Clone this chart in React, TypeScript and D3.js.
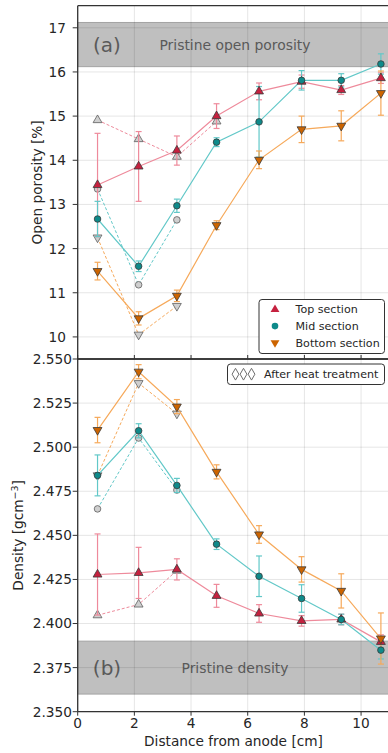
import * as d3 from 'd3'
import { useEffect, useRef } from 'react'

// distance from anode [cm]
const xs = [0.7, 2.15, 3.5, 4.9, 6.4, 7.9, 9.3, 10.7]
const xTicks = [0, 2, 4, 6, 8, 10]

// open porosity [%]
const porTop = [13.44, 13.86, 14.22, 15.0, 15.56, 15.78, 15.59, 15.86]
const porTopErr = [1.17, 0.79, 0.33, 0.28, 0.19, 0.15, 0.1, 0.12]
const porMid = [12.67, 11.6, 12.97, 14.41, 14.87, 15.81, 15.81, 16.18]
const porMidErr = [0.4, 0.12, 0.15, 0.1, 0.8, 0.22, 0.15, 0.23]
const porBot = [11.49, 10.42, 10.93, 12.53, 14.01, 14.7, 14.78, 15.52]
const porBotErr = [0.2, 0.15, 0.13, 0.1, 0.2, 0.3, 0.34, 0.5]
const porHeatTop = [14.91, 14.48, 14.08, 14.88]
const porHeatMid = [13.35, 11.18, 12.65]
const porHeatBot = [12.25, 10.05, 10.7]
const porTicks = [10, 11, 12, 13, 14, 15, 16, 17]
const porBand = [16.12, 17.12]

// density [g cm^-3]
const denTop = [2.4278, 2.4287, 2.4307, 2.4157, 2.4057, 2.4015, 2.4023, 2.3896]
const denTopErr = [0.023, 0.0145, 0.006, 0.0065, 0.005, 0.003, 0.003, 0.004]
const denMid = [2.484, 2.5093, 2.4783, 2.445, 2.4268, 2.4142, 2.4023, 2.3849]
const denMidErr = [0.0116, 0.004, 0.004, 0.003, 0.0115, 0.0078, 0.003, 0.005]
const denBot = [2.5097, 2.5428, 2.523, 2.486, 2.4505, 2.4307, 2.4185, 2.3915]
const denBotErr = [0.0072, 0.004, 0.004, 0.004, 0.005, 0.0072, 0.0097, 0.0145]
const denHeatTop = [2.4047, 2.4108, 2.43]
const denHeatMid = [2.465, 2.5052, 2.4757]
const denHeatBot = [2.484, 2.5363, 2.519]
const denTicks = [2.35, 2.375, 2.4, 2.425, 2.45, 2.475, 2.5, 2.525, 2.55]
const denBand = [2.36, 2.39]

const sections = ['Top section', 'Mid section', 'Bottom section']
const markerFill = ['#c5213f', '#0e8a8a', '#cc6400']
const lineColor = ['#ee8a9b', '#62c8c8', '#f6a95a']

const font = 'DejaVu Sans, sans-serif'

const App = () => {
  const ref = useRef<SVGSVGElement>(null)

  useEffect(() => {
    const svg = d3.select(ref.current)
    svg.selectAll('*').remove()

    const left = 77.7,
      right = 389.4,
      top = 5.7,
      mid = 359,
      bottom = 711.7

    const x = d3.scaleLinear().domain([0, 11]).range([left, right])

    const marker = (g: any, type: number, cx: number, cy: number, fill: string, stroke: string) => {
      if (type === 1) {
        g.append('circle')
          .attr('cx', cx)
          .attr('cy', cy)
          .attr('r', 3.3)
          .attr('fill', fill)
          .attr('stroke', stroke)
          .attr('stroke-width', 0.8)
      } else {
        g.append('path')
          .attr('d', d3.symbol().type(d3.symbolTriangle).size(34)())
          .attr('transform', 'translate(' + cx + ',' + cy + ')' + (type === 2 ? ' rotate(180)' : ''))
          .attr('fill', fill)
          .attr('stroke', stroke)
          .attr('stroke-width', 0.8)
      }
    }

    function panel(
      y0: number,
      y1: number,
      domain: number[],
      ticks: number[],
      fmt: (v: number) => string,
      band: number[],
      tag: string,
      bandText: string,
      series: number[][],
      errs: number[][],
      heat: number[][],
      label: string,
      labelX: number,
      tickRight: number,
    ) {
      const y = d3.scaleLinear().domain(domain).range([y1, y0])
      const g = svg.append('g')

      // pristine band
      g.append('rect')
        .attr('x', left)
        .attr('width', right - left + 5)
        .attr('y', y(band[1]))
        .attr('height', y(band[0]) - y(band[1]))
        .attr('fill', '#bfbfbf')
        .attr('stroke', '#a3a3a3')
        .attr('stroke-width', 1)
      const bandMid = (y(band[0]) + y(band[1])) / 2
      g.append('text')
        .attr('x', 107)
        .attr('y', bandMid)
        .attr('dy', '0.36em')
        .attr('text-anchor', 'middle')
        .attr('font-family', font)
        .attr('font-size', 20)
        .attr('fill', '#5a5a5a')
        .text(tag)
      g.append('text')
        .attr('x', 235)
        .attr('y', bandMid)
        .attr('dy', '0.36em')
        .attr('text-anchor', 'middle')
        .attr('font-family', font)
        .attr('font-size', 13.9)
        .attr('fill', '#5a5a5a')
        .text(bandText)

      // grid
      g.selectAll('.vg')
        .data(xTicks)
        .enter()
        .append('line')
        .attr('x1', (d) => x(d))
        .attr('x2', (d) => x(d))
        .attr('y1', y0)
        .attr('y2', y1)
        .attr('stroke', '#000')
        .attr('stroke-opacity', 0.1)
      g.selectAll('.hg')
        .data(ticks)
        .enter()
        .append('line')
        .attr('x1', left)
        .attr('x2', right)
        .attr('y1', (d) => y(d))
        .attr('y2', (d) => y(d))
        .attr('stroke', '#000')
        .attr('stroke-opacity', 0.1)

      const line = d3
        .line<number>()
        .x((d, i) => x(xs[i]))
        .y((d) => y(d))

      // after heat treatment
      heat.forEach((h, k) => {
        g.append('path')
          .attr('d', line(h))
          .attr('fill', 'none')
          .attr('stroke', lineColor[k])
          .attr('stroke-width', 1)
          .attr('stroke-dasharray', '3,2')
      })
      heat.forEach((h, k) => {
        h.forEach((v, i) => marker(g, k, x(xs[i]), y(v), '#cfcfcf', '#5e5e5e'))
      })

      // error bars
      series.forEach((s, k) => {
        s.forEach((v, i) => {
          const cx = x(xs[i])
          const e = errs[k][i]
          g.append('line')
            .attr('x1', cx)
            .attr('x2', cx)
            .attr('y1', y(v - e))
            .attr('y2', y(v + e))
            .attr('stroke', lineColor[k])
            .attr('stroke-width', 1.2)
          ;[v - e, v + e].forEach((c) => {
            g.append('line')
              .attr('x1', cx - 3)
              .attr('x2', cx + 3)
              .attr('y1', y(c))
              .attr('y2', y(c))
              .attr('stroke', lineColor[k])
              .attr('stroke-width', 1.2)
          })
        })
      })
      series.forEach((s, k) => {
        g.append('path')
          .attr('d', line(s))
          .attr('fill', 'none')
          .attr('stroke', lineColor[k])
          .attr('stroke-width', 1.2)
      })
      series.forEach((s, k) => {
        s.forEach((v, i) => marker(g, k, x(xs[i]), y(v), markerFill[k], '#3a3a3a'))
      })

      // y axis
      g.selectAll('.yt')
        .data(ticks)
        .enter()
        .append('line')
        .attr('x1', left - 5)
        .attr('x2', left)
        .attr('y1', (d) => y(d))
        .attr('y2', (d) => y(d))
        .attr('stroke', '#333')
      g.selectAll('.yl')
        .data(ticks)
        .enter()
        .append('text')
        .attr('x', tickRight)
        .attr('y', (d) => y(d))
        .attr('dy', '0.36em')
        .attr('text-anchor', 'end')
        .attr('font-family', font)
        .attr('font-size', 13.7)
        .attr('fill', '#262626')
        .text((d) => fmt(d))

      g.append('text')
        .attr('transform', 'translate(' + labelX + ',' + (y0 + y1) / 2 + ') rotate(-90)')
        .attr('text-anchor', 'middle')
        .attr('font-family', font)
        .attr('font-size', 13.7)
        .attr('fill', '#262626')
        .html(label)

      // x ticks at bottom of panel
      g.selectAll('.xt')
        .data(xTicks)
        .enter()
        .append('line')
        .attr('x1', (d) => x(d))
        .attr('x2', (d) => x(d))
        .attr('y1', y1)
        .attr('y2', y1 + (y1 === bottom ? 4 : -4))
        .attr('stroke', '#333')

      // spines
      g.append('line').attr('x1', left).attr('x2', left).attr('y1', y0).attr('y2', y1).attr('stroke', '#333').attr('stroke-width', 1.3)
      g.append('line').attr('x1', left).attr('x2', right).attr('y1', y0).attr('y2', y0).attr('stroke', '#333').attr('stroke-width', 1.3)
      g.append('line').attr('x1', left).attr('x2', right).attr('y1', y1).attr('y2', y1).attr('stroke', '#333').attr('stroke-width', 1.3)
    }

    panel(
      top,
      mid,
      [9.5, 17.5],
      porTicks,
      (v) => String(v),
      porBand,
      '(a)',
      'Pristine open porosity',
      [porTop, porMid, porBot],
      [porTopErr, porMidErr, porBotErr],
      [porHeatTop, porHeatMid, porHeatBot],
      'Open porosity [%]',
      42,
      66,
    )

    panel(
      mid,
      bottom,
      [2.35, 2.55],
      denTicks,
      (v) => d3.format('.3f')(v),
      denBand,
      '(b)',
      'Pristine density',
      [denTop, denMid, denBot],
      [denTopErr, denMidErr, denBotErr],
      [denHeatTop, denHeatMid, denHeatBot],
      'Density [gcm<tspan dy="-5" font-size="9.5">−3</tspan><tspan dy="5">]</tspan>',
      23,
      72,
    )

    // x tick labels
    svg
      .selectAll('.xl')
      .data(xTicks)
      .enter()
      .append('text')
      .attr('x', (d) => x(d))
      .attr('y', 728)
      .attr('text-anchor', 'middle')
      .attr('font-family', font)
      .attr('font-size', 13.7)
      .attr('fill', '#262626')
      .text((d) => d)
    svg
      .append('text')
      .attr('x', 233.5)
      .attr('y', 746)
      .attr('text-anchor', 'middle')
      .attr('font-family', font)
      .attr('font-size', 13.7)
      .attr('fill', '#262626')
      .text('Distance from anode [cm]')

    // section legend
    const lg = svg.append('g')
    lg.append('rect')
      .attr('x', 259)
      .attr('y', 299.5)
      .attr('width', 125.5)
      .attr('height', 54)
      .attr('rx', 3)
      .attr('fill', '#fff')
      .attr('stroke', '#333')
      .attr('stroke-width', 1)
    sections.forEach((s, k) => {
      const cy = 309.5 + k * 16.6
      marker(lg, k, 275, cy, markerFill[k], 'none')
      lg.append('text')
        .attr('x', 295.5)
        .attr('y', cy)
        .attr('dy', '0.36em')
        .attr('font-family', font)
        .attr('font-size', 11.1)
        .attr('fill', '#262626')
        .text(s)
    })

    // heat treatment legend
    const hg = svg.append('g')
    hg.append('rect')
      .attr('x', 227.5)
      .attr('y', 364)
      .attr('width', 157)
      .attr('height', 20.5)
      .attr('rx', 3)
      .attr('fill', '#fff')
      .attr('stroke', '#333')
      .attr('stroke-width', 1)
    ;[235.5, 243.5, 251.5].forEach((cx) => {
      hg.append('path')
        .attr('d', d3.symbol().type(d3.symbolDiamond).size(40)())
        .attr('transform', 'translate(' + cx + ',374.2)')
        .attr('fill', '#fff')
        .attr('stroke', '#6e6e6e')
        .attr('stroke-width', 1)
    })
    hg.append('text')
      .attr('x', 264)
      .attr('y', 374.2)
      .attr('dy', '0.36em')
      .attr('font-family', font)
      .attr('font-size', 11.1)
      .attr('fill', '#262626')
      .text('After heat treatment')
  }, [])

  return <svg ref={ref} width={388} height={753} style={{ position: 'absolute', left: 0, top: 0 }} />
}

export default App
